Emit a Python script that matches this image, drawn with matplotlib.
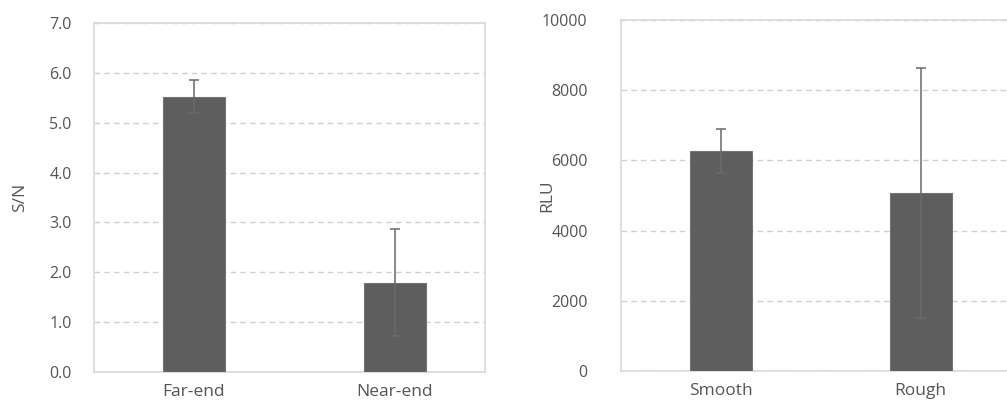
import matplotlib
matplotlib.use("Agg")
import matplotlib.pyplot as plt

# Signal-to-noise by position
sn_categories = ["Far-end", "Near-end"]
sn_values = [5.52, 1.79]
sn_errors = [0.33, 1.07]
sn_ticks = [0, 1, 2, 3, 4, 5, 6, 7]
sn_ticklabels = ["0.0", "1.0", "2.0", "3.0", "4.0", "5.0", "6.0", "7.0"]

# Luminescence by surface
rlu_categories = ["Smooth", "Rough"]
rlu_values = [6280, 5075]
rlu_errors = [625, 3560]
rlu_ticks = [0, 2000, 4000, 6000, 8000, 10000]
rlu_ticklabels = ["0", "2000", "4000", "6000", "8000", "10000"]

plt.rcParams["font.family"] = ["Open Sans", "DejaVu Sans"]

W, H = 1007, 405
fig = plt.figure(figsize=(W / 100, H / 100), dpi=100)

BAR = "#5e5e5e"
TXT = "#555555"
GRID = "#cfcfcf"
SPINE = "#d9d9d9"


def px_axes(x0, y0, x1, y1):
    return fig.add_axes([x0 / W, 1 - y1 / H, (x1 - x0) / W, (y1 - y0) / H])


def style(ax, cats, vals, errs, ticks, labels, ymax, ylabel, pad):
    ax.bar(range(len(cats)), vals, width=0.31, color=BAR,
           edgecolor="#747474", linewidth=0.8, zorder=3)
    ax.errorbar(range(len(cats)), vals, yerr=errs, fmt="none",
                ecolor="#6a6a6a", elinewidth=1.1, capsize=3.5,
                capthick=1.1, zorder=4)
    ax.set_ylim(0, ymax)
    ax.set_yticks(ticks)
    ax.set_yticklabels(labels)
    ax.set_xticks(range(len(cats)))
    ax.set_xticklabels(cats)
    ax.tick_params(axis="both", length=0, colors=TXT)
    ax.tick_params(axis="y", labelsize=11.5, pad=pad)
    ax.tick_params(axis="x", labelsize=12.5, pad=9)
    ax.yaxis.grid(True, color=GRID, linestyle=(0, (4, 3)), linewidth=1, zorder=0)
    ax.set_axisbelow(True)
    for s in ax.spines.values():
        s.set_color(SPINE)
        s.set_linewidth(1.2)
    ax.set_ylabel(ylabel, fontsize=12.5, color=TXT)


ax1 = px_axes(94, 23, 485, 372)
ax1.set_xlim(-0.498, 1.448)
style(ax1, sn_categories, sn_values, sn_errors, sn_ticks, sn_ticklabels,
      7, "S/N", 16)
ax1.yaxis.set_label_coords(-66 / 391, 0.5)

ax2 = px_axes(621, 20.3, 1020.5, 370.7)
ax2.set_xlim(-0.5, 1.5)
style(ax2, rlu_categories, rlu_values, rlu_errors, rlu_ticks, rlu_ticklabels,
      10000, "RLU", 24)
ax2.yaxis.set_label_coords(-66 / 399.5, 0.5)

fig.savefig("out.png", dpi=100)
